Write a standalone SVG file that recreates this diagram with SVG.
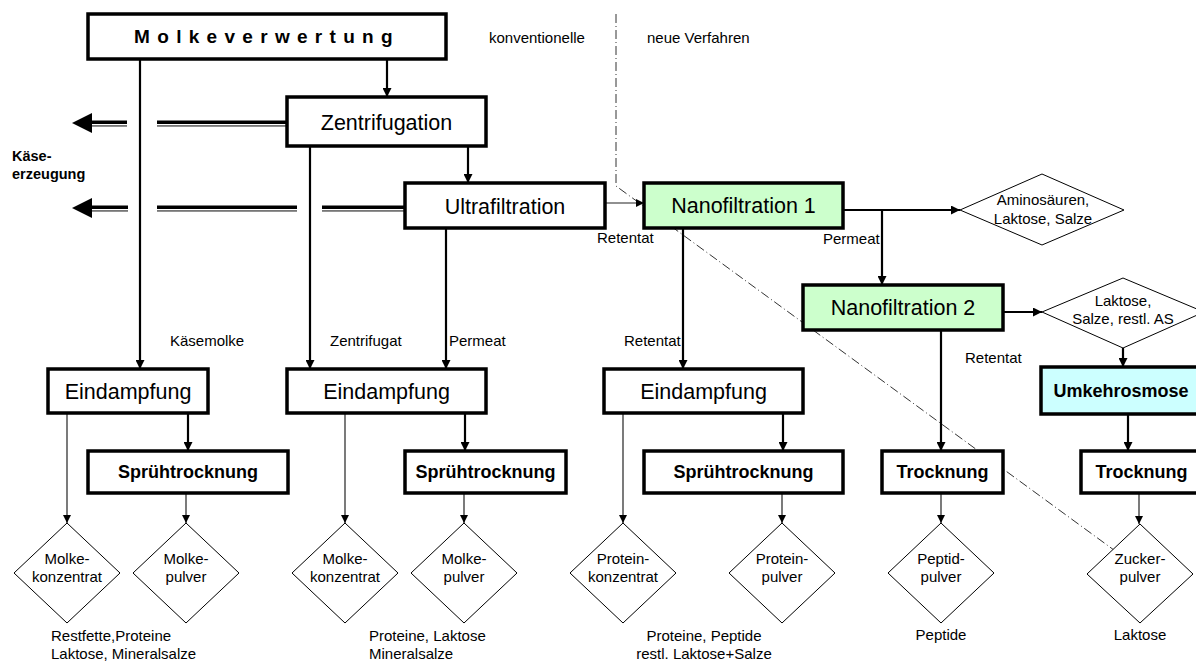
<svg xmlns="http://www.w3.org/2000/svg" width="1196" height="661" viewBox="0 0 1196 661">
<defs>
<style>
.box{fill:#fff;stroke:#000;stroke-width:3.5}
.nano{fill:#ccffcc;stroke:#000;stroke-width:3.5}
.umk{fill:#ccffff;stroke:#000;stroke-width:3.5}
.dia{fill:#fff;stroke:#000;stroke-width:1}
.big{font-family:"Liberation Sans",Arial,sans-serif;font-size:21.5px;fill:#000;text-anchor:middle}
.bold{font-family:"Liberation Sans",Arial,sans-serif;font-size:18px;font-weight:bold;fill:#000;text-anchor:middle}
.sm{font-family:"Liberation Sans",Arial,sans-serif;font-size:15px;fill:#000}
.smc{font-family:"Liberation Sans",Arial,sans-serif;font-size:15px;fill:#000;text-anchor:middle}
.thick{stroke:#000;stroke-width:2.2;fill:none;marker-end:url(#ah)}
.thin{stroke:#222;stroke-width:1.2;fill:none;marker-end:url(#ahs)}
.plain{stroke:#000;stroke-width:2.2;fill:none}
.dl1{fill:#000}
.dl2{fill:#777}
</style>
<marker id="ah" viewBox="0 0 10 10" refX="10" refY="5" markerUnits="userSpaceOnUse" markerWidth="10" markerHeight="9" orient="auto"><path d="M0,0 L10,5 L0,10 z" fill="#000"/></marker>
<marker id="ahs" viewBox="0 0 10 10" refX="10" refY="5" markerUnits="userSpaceOnUse" markerWidth="9" markerHeight="8" orient="auto"><path d="M0,0 L10,5 L0,10 z" fill="#000"/></marker>
</defs>
<rect width="1196" height="661" fill="#fff"/>

<!-- divider line -->
<path d="M616,14 L616,186 L1118,553" fill="none" stroke="#333" stroke-width="1" stroke-dasharray="9,3,1,3"/>
<text class="sm" x="489" y="43">konventionelle</text>
<text class="sm" x="647" y="43">neue Verfahren</text>

<!-- Käseerzeugung -->
<g id="kaese">
<text x="12" y="160.5" font-family="Liberation Sans,Arial,sans-serif" font-size="14.5" font-weight="bold">Käse-</text>
<text x="12" y="179" font-family="Liberation Sans,Arial,sans-serif" font-size="14.5" font-weight="bold">erzeugung</text>
<polygon points="72,123 92,113 92,133" fill="#000"/>
<rect class="dl1" x="92" y="120.5" width="35" height="3.5"/><rect class="dl2" x="92" y="125" width="35" height="1.8"/>
<rect class="dl1" x="157" y="120.5" width="130" height="3.5"/><rect class="dl2" x="157" y="125" width="130" height="1.8"/>
<polygon points="72,208 92,198 92,218" fill="#000"/>
<rect class="dl1" x="92" y="205.5" width="36" height="3.5"/><rect class="dl2" x="92" y="210" width="36" height="1.8"/>
<rect class="dl1" x="157" y="205.5" width="140" height="3.5"/><rect class="dl2" x="157" y="210" width="140" height="1.8"/>
<rect class="dl1" x="322" y="205.5" width="83" height="3.5"/><rect class="dl2" x="322" y="210" width="83" height="1.8"/>
</g>

<!-- connectors -->
<g id="connectors">
<line class="thick" x1="387" y1="59" x2="387" y2="97"/>
<line class="thick" x1="468" y1="146" x2="468" y2="183"/>
<line class="thin" x1="605" y1="203" x2="644" y2="203"/>
<line class="thick" x1="843" y1="210" x2="960" y2="210"/>
<line class="thick" x1="882" y1="210" x2="882" y2="285"/>
<line class="thick" x1="1003" y1="312" x2="1042" y2="312"/>
<line class="thick" x1="1123" y1="348" x2="1123" y2="367"/>
<line class="thick" x1="1128" y1="414" x2="1128" y2="451"/>
<line class="thin" x1="1139" y1="493" x2="1139" y2="524"/>

<line class="thick" x1="140" y1="59" x2="140" y2="369"/>
<line class="thin" x1="67" y1="413" x2="67" y2="523"/>
<line class="thick" x1="188" y1="413" x2="188" y2="451"/>
<line class="thin" x1="186" y1="493" x2="186" y2="523"/>

<line class="thick" x1="310" y1="146" x2="310" y2="369"/>
<line class="thick" x1="446" y1="228" x2="446" y2="369"/>
<line class="thin" x1="345" y1="413" x2="345" y2="523"/>
<line class="thick" x1="465" y1="413" x2="465" y2="451"/>
<line class="thin" x1="464" y1="493" x2="464" y2="523"/>

<line class="thick" x1="683" y1="228" x2="683" y2="369"/>
<line class="thin" x1="623" y1="413" x2="623" y2="523"/>
<line class="thick" x1="783" y1="413" x2="783" y2="451"/>
<line class="thin" x1="782" y1="493" x2="782" y2="523"/>

<line class="thick" x1="941" y1="330" x2="941" y2="451"/>
<line class="thin" x1="941" y1="493" x2="941" y2="523"/>

<text class="sm" x="597" y="243">Retentat</text>
<text class="sm" x="823" y="244">Permeat</text>
<text class="sm" x="170" y="346">Käsemolke</text>
<text class="sm" x="330" y="346">Zentrifugat</text>
<text class="sm" x="449" y="346">Permeat</text>
<text class="sm" x="624" y="346">Retentat</text>
<text class="sm" x="965" y="363">Retentat</text>
</g>

<!-- nodes -->
<g id="molkeverwertung"><rect class="box" x="88" y="14" width="358" height="45"/>
<text x="267" y="43" font-family="Liberation Sans,Arial,sans-serif" font-size="19" font-weight="bold" letter-spacing="7.3" text-anchor="middle">Molkeverwertung</text></g>
<g id="zentrifugation"><rect class="box" x="287" y="97" width="199" height="49"/><text class="big" x="386.5" y="130" font-size="24">Zentrifugation</text></g>
<g id="ultrafiltration"><rect class="box" x="405" y="183" width="200" height="45"/><text class="big" x="505" y="213.7" font-size="23">Ultrafiltration</text></g>
<g id="nano1"><rect class="nano" x="644" y="183" width="199" height="45"/><text class="big" x="743.5" y="213.2">Nanofiltration 1</text></g>
<g id="nano2"><rect class="nano" x="803" y="285" width="200" height="45"/><text class="big" x="903" y="315.2">Nanofiltration 2</text></g>
<g id="aminosaeuren"><polygon class="dia" points="960,210 1042,174 1124,210 1042,245"/>
<text class="smc" x="1043" y="205">Aminosäuren,</text><text class="smc" x="1043" y="224">Laktose, Salze</text></g>
<g id="laktose-salze"><polygon class="dia" points="1042,312 1123,278 1204,312 1123,348"/>
<text class="smc" x="1123" y="306">Laktose,</text><text class="smc" x="1123" y="324">Salze, restl. AS</text></g>
<g id="umkehrosmose"><rect class="umk" x="1041" y="367" width="160" height="47"/><text class="bold" x="1121" y="397">Umkehrosmose</text></g>

<g id="eind1"><rect class="box" x="48" y="369" width="160" height="44"/><text class="big" x="128" y="398.7">Eindampfung</text></g>
<g id="eind2"><rect class="box" x="287" y="369" width="199" height="44"/><text class="big" x="386.5" y="398.7">Eindampfung</text></g>
<g id="eind3"><rect class="box" x="604" y="369" width="199" height="44"/><text class="big" x="703.5" y="398.7">Eindampfung</text></g>

<g id="spray1"><rect class="box" x="88" y="451" width="200" height="42"/><text class="bold" x="188" y="478.4">Sprühtrocknung</text></g>
<g id="spray2"><rect class="box" x="405" y="451" width="161" height="42"/><text class="bold" x="485.5" y="478.4">Sprühtrocknung</text></g>
<g id="spray3"><rect class="box" x="644" y="451" width="199" height="42"/><text class="bold" x="743.5" y="478.4">Sprühtrocknung</text></g>
<g id="trock1"><rect class="box" x="882" y="451" width="121" height="42"/><text class="bold" x="942.5" y="478.4">Trocknung</text></g>
<g id="trock2"><rect class="box" x="1081" y="451" width="120" height="42"/><text class="bold" x="1141.5" y="478.4">Trocknung</text></g>

<g id="d-mk1"><polygon class="dia" points="14,573 67,523 120,573 67,623"/><text class="smc" x="67" y="564">Molke-</text><text class="smc" x="67" y="582">konzentrat</text></g>
<g id="d-mp1"><polygon class="dia" points="133,573 186,523 239,573 186,623"/><text class="smc" x="186" y="564">Molke-</text><text class="smc" x="186" y="582">pulver</text></g>
<g id="d-mk2"><polygon class="dia" points="292,573 345,523 398,573 345,623"/><text class="smc" x="345" y="564">Molke-</text><text class="smc" x="345" y="582">konzentrat</text></g>
<g id="d-mp2"><polygon class="dia" points="411,573 464,523 517,573 464,623"/><text class="smc" x="464" y="564">Molke-</text><text class="smc" x="464" y="582">pulver</text></g>
<g id="d-pk"><polygon class="dia" points="570,573 623,523 676,573 623,623"/><text class="smc" x="623" y="564">Protein-</text><text class="smc" x="623" y="582">konzentrat</text></g>
<g id="d-pp"><polygon class="dia" points="729,573 782,523 835,573 782,623"/><text class="smc" x="782" y="564">Protein-</text><text class="smc" x="782" y="582">pulver</text></g>
<g id="d-pep"><polygon class="dia" points="888,573 941,523 994,573 941,623"/><text class="smc" x="941" y="564">Peptid-</text><text class="smc" x="941" y="582">pulver</text></g>
<g id="d-zu"><polygon class="dia" points="1087,574 1140,524 1193,574 1140,623"/><text class="smc" x="1140" y="564">Zucker-</text><text class="smc" x="1140" y="582">pulver</text></g>

<g id="notes">
<text class="sm" x="51" y="641">Restfette,Proteine</text>
<text class="sm" x="51" y="659">Laktose, Mineralsalze</text>
<text class="sm" x="369" y="641">Proteine, Laktose</text>
<text class="sm" x="369" y="659">Mineralsalze</text>
<text class="smc" x="704" y="641">Proteine, Peptide</text>
<text class="smc" x="704" y="659">restl. Laktose+Salze</text>
<text class="smc" x="941" y="640">Peptide</text>
<text class="smc" x="1140" y="640">Laktose</text>
</g>
</svg>
